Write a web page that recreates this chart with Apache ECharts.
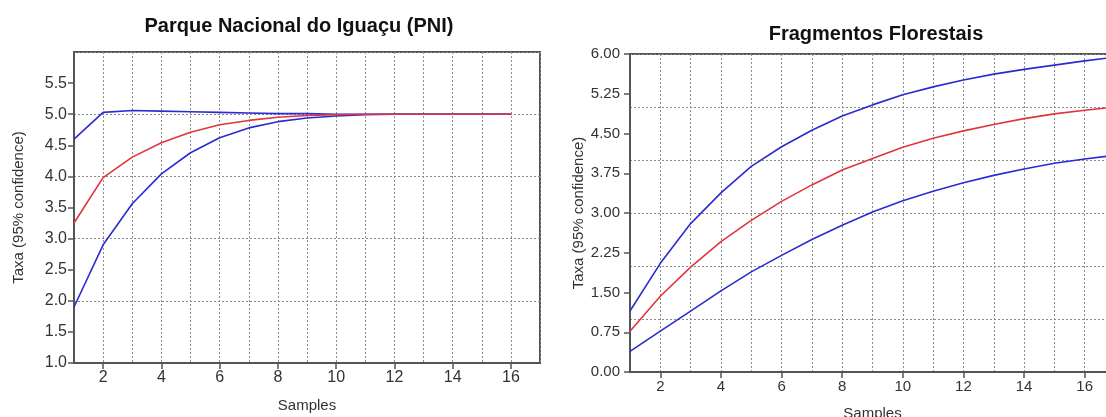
<!DOCTYPE html>
<html>
<head>
<meta charset="utf-8">
<style>
  html, body { margin: 0; padding: 0; background: #fff; }
  #main { width: 1106px; height: 417px; }
</style>
<script src="https://cdn.jsdelivr.net/npm/echarts@6/dist/echarts.min.js"></script>
</head>
<body>
<div id="main"></div>
<script>
// Parque Nacional do Iguaçu (PNI)
const pniSamples = [1, 2, 3, 4, 5, 6, 7, 8, 9, 10, 11, 12, 13, 14, 15, 16]
const pniUpper = [4.60, 5.03, 5.06, 5.05, 5.04, 5.03, 5.02, 5.01, 5.01, 5.00, 5.00, 5.00, 5.00, 5.00, 5.00, 5.00]
const pniMean = [3.25, 3.98, 4.31, 4.54, 4.71, 4.83, 4.90, 4.95, 4.98, 4.99, 5.00, 5.00, 5.00, 5.00, 5.00, 5.00]
const pniLower = [1.90, 2.90, 3.56, 4.04, 4.38, 4.62, 4.78, 4.88, 4.94, 4.97, 4.99, 5.00, 5.00, 5.00, 5.00, 5.00]
const pniYTicks = [1.0, 1.5, 2.0, 2.5, 3.0, 3.5, 4.0, 4.5, 5.0, 5.5]

// Fragmentos Florestais
const fragSamples = [1, 2, 3, 4, 5, 6, 7, 8, 9, 10, 11, 12, 13, 14, 15, 16, 17]
const fragUpper = [1.15, 2.05, 2.80, 3.38, 3.88, 4.25, 4.56, 4.83, 5.04, 5.23, 5.38, 5.51, 5.62, 5.71, 5.79, 5.87, 5.94]
const fragMean = [0.77, 1.43, 1.98, 2.46, 2.86, 3.22, 3.53, 3.81, 4.03, 4.24, 4.41, 4.55, 4.67, 4.78, 4.87, 4.94, 5.00]
const fragLower = [0.39, 0.77, 1.15, 1.53, 1.89, 2.20, 2.50, 2.77, 3.02, 3.23, 3.41, 3.57, 3.71, 3.83, 3.94, 4.02, 4.09]
const fragYTicks = [0, 0.75, 1.5, 2.25, 3, 3.75, 4.5, 5.25, 6]

const xTicks = [2, 4, 6, 8, 10, 12, 14, 16]

const font = 'Liberation Sans, Arial, sans-serif'
const frameColor = '#555'
const blue = '#2b2bd2'
const red = '#e0353c'

function pairs(xs, ys) {
  return xs.map((x, i) => [x, ys[i]])
}

// axes with labels and ticks (no grid lines)
function xAxis(gridIndex, fontSize, nameGap) {
  return {
    gridIndex: gridIndex,
    type: 'value',
    min: 1,
    max: 17,
    interval: 1,
    name: 'Samples',
    nameLocation: 'middle',
    nameGap: nameGap,
    nameTextStyle: { color: '#333', fontSize: 15, fontFamily: font },
    axisLine: { show: true, lineStyle: { color: frameColor, width: 2 } },
    axisTick: { show: true, customValues: xTicks, length: 6, lineStyle: { color: frameColor, width: 1.5 } },
    axisLabel: { customValues: xTicks, color: '#333', fontSize: fontSize, fontFamily: font, margin: 7 },
    splitLine: { show: false }
  }
}

function yAxis(gridIndex, min, ticks, digits, fontSize, margin, nameGap) {
  return {
    gridIndex: gridIndex,
    type: 'value',
    min: min,
    max: 6,
    interval: 1,
    name: 'Taxa (95% confidence)',
    nameLocation: 'middle',
    nameGap: nameGap,
    nameTextStyle: { color: '#333', fontSize: 15, fontFamily: font },
    axisLine: { show: true, lineStyle: { color: frameColor, width: 2 } },
    axisTick: { show: true, customValues: ticks, length: 6, lineStyle: { color: frameColor, width: 1.5 } },
    axisLabel: {
      customValues: ticks,
      color: '#333',
      fontSize: fontSize,
      fontFamily: font,
      margin: margin,
      formatter: (v) => v.toFixed(digits)
    },
    splitLine: { show: false }
  }
}

// hidden axes that only draw the dashed grid at every whole unit
function gridAxis(gridIndex, position, min, max) {
  return {
    gridIndex: gridIndex,
    type: 'value',
    position: position,
    min: min,
    max: max,
    interval: 1,
    axisLine: { show: false },
    axisTick: { show: false },
    axisLabel: { show: false },
    splitLine: { show: true, lineStyle: { color: '#8a8a8a', type: [2, 2], width: 1 } }
  }
}

function line(name, gi, data, color) {
  return {
    name: name,
    type: 'line',
    xAxisIndex: gi,
    yAxisIndex: gi,
    data: data,
    symbol: 'none',
    smooth: false,
    clip: true,
    lineStyle: { color: color, width: 1.6 }
  }
}

const myChart = echarts.init(document.getElementById('main'), null, { renderer: 'canvas' })
myChart.setOption({
  animation: false,
  backgroundColor: '#fff',
  title: [{
    text: 'Parque Nacional do Iguaçu (PNI)',
    left: 294,
    top: 11,
    textAlign: 'center',
    textStyle: { color: '#111', fontSize: 20, fontWeight: 'bold', fontFamily: font }
  }, {
    text: 'Fragmentos Florestais',
    left: 871,
    top: 19,
    textAlign: 'center',
    textStyle: { color: '#111', fontSize: 20, fontWeight: 'bold', fontFamily: font }
  }],
  grid: [{
    left: 74,
    top: 52,
    width: 466,
    height: 311,
    outerBoundsMode: 'none',
    show: true,
    borderColor: frameColor,
    borderWidth: 2
  }, {
    left: 630,
    top: 54,
    width: 485,
    height: 318,
    outerBoundsMode: 'none',
    show: true,
    borderColor: frameColor,
    borderWidth: 2
  }],
  xAxis: [
    xAxis(0, 16, 35),
    xAxis(1, 15, 34),
    gridAxis(0, 'top', 1, 17),
    gridAxis(1, 'top', 1, 17)
  ],
  yAxis: [
    yAxis(0, 1, pniYTicks, 1, 16, 7, 48),
    yAxis(1, 0, fragYTicks, 2, 15, 10, 44),
    gridAxis(0, 'right', 1, 6),
    gridAxis(1, 'right', 0, 6)
  ],
  series: [
    line('PNI upper', 0, pairs(pniSamples, pniUpper), blue),
    line('PNI lower', 0, pairs(pniSamples, pniLower), blue),
    line('PNI', 0, pairs(pniSamples, pniMean), red),
    line('Frag upper', 1, pairs(fragSamples, fragUpper), blue),
    line('Frag lower', 1, pairs(fragSamples, fragLower), blue),
    line('Frag', 1, pairs(fragSamples, fragMean), red)
  ]
})

window.addEventListener('resize', function() {
  myChart.resize()
})
</script>
</body>
</html>
